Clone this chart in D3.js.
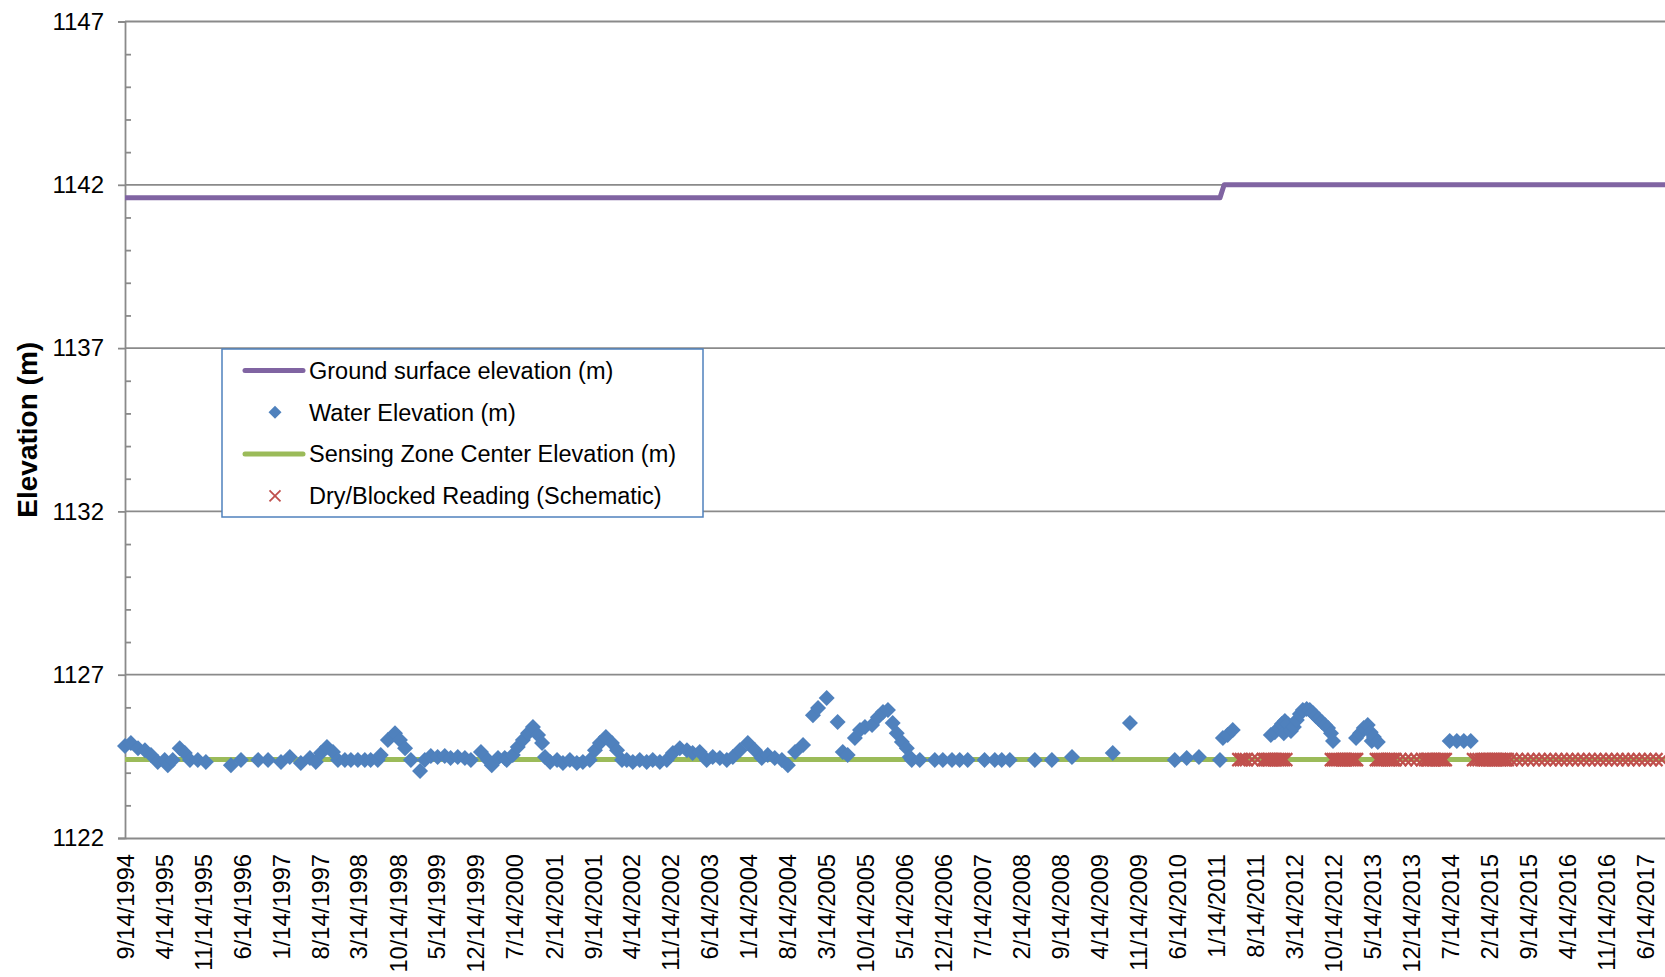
<!DOCTYPE html>
<html><head><meta charset="utf-8">
<script src="https://cdn.jsdelivr.net/npm/d3@7"></script>
<style>
body{margin:0;background:#fff}
svg{display:block}
text{font-family:"Liberation Sans",Arial,sans-serif;fill:#000}
</style>
</head><body>
<svg id="chart" width="1665" height="977"></svg>
<script>
// ---------- DATA ----------
const xTickLabels = ["9/14/1994","4/14/1995","11/14/1995","6/14/1996","1/14/1997","8/14/1997","3/14/1998","10/14/1998","5/14/1999","12/14/1999","7/14/2000","2/14/2001","9/14/2001","4/14/2002","11/14/2002","6/14/2003","1/14/2004","8/14/2004","3/14/2005","10/14/2005","5/14/2006","12/14/2006","7/14/2007","2/14/2008","9/14/2008","4/14/2009","11/14/2009","6/14/2010","1/14/2011","8/14/2011","3/14/2012","10/14/2012","5/14/2013","12/14/2013","7/14/2014","2/14/2015","9/14/2015","4/14/2016","11/14/2016","6/14/2017"];
const yTicks = [1122,1127,1132,1137,1142,1147];
const yMinorTicks = [1123,1124,1125,1126,1128,1129,1130,1131,1133,1134,1135,1136,1138,1139,1140,1141,1143,1144,1145,1146];
const xDomain = ["1994-09-14","2017-10-02"];

const groundDates = ["1994-09-14","2011-02-03","2011-02-26","2017-10-02"];
const groundElev  = [1141.6, 1141.6, 1142.0, 1142.0];

const sensingDates = ["1994-09-14","2017-10-02"];
const sensingElev  = [1124.4, 1124.4];

const waterDates = ["1994-09-14","1994-10-16","1994-11-24","1995-01-01","1995-02-03","1995-03-12","1995-04-19","1995-05-06","1995-06-02","1995-07-10","1995-08-07","1995-09-04","1995-10-17","1995-11-30","1996-04-15","1996-06-09","1996-09-11","1996-11-04","1997-01-14","1997-03-03","1997-05-02","1997-06-21","1997-07-23","1997-08-20","1997-09-22","1997-10-25","1997-11-21","1997-12-29","1998-01-31","1998-03-10","1998-04-17","1998-05-19","1998-06-27","1998-07-13","1998-08-21","1998-09-29","1998-10-26","1998-11-23","1998-12-25","1999-02-13","1999-03-11","1999-04-13","1999-05-20","1999-06-28","1999-07-30","1999-09-07","1999-10-16","1999-11-18","2000-01-12","2000-02-19","2000-03-11","2000-04-14","2000-05-21","2000-06-01","2000-07-04","2000-07-31","2000-08-28","2000-09-25","2000-10-22","2000-11-19","2000-12-11","2000-12-27","2001-01-24","2001-03-03","2001-04-04","2001-05-12","2001-06-19","2001-07-22","2001-08-29","2001-09-26","2001-10-23","2001-11-25","2001-12-28","2002-01-25","2002-02-21","2002-03-19","2002-04-21","2002-05-29","2002-07-06","2002-08-08","2002-09-16","2002-10-24","2002-11-26","2003-01-03","2003-02-11","2003-03-14","2003-04-22","2003-05-30","2003-07-02","2003-08-10","2003-09-17","2003-10-20","2003-11-27","2004-01-10","2004-02-18","2004-03-26","2004-04-28","2004-06-05","2004-07-14","2004-08-16","2004-09-24","2004-11-07","2004-12-31","2005-01-28","2005-03-16","2005-05-15","2005-06-12","2005-07-09","2005-08-17","2005-09-14","2005-10-11","2005-11-19","2005-12-21","2006-01-18","2006-02-14","2006-03-12","2006-04-03","2006-05-01","2006-05-28","2006-06-13","2006-06-24","2006-08-07","2006-10-28","2006-12-11","2007-01-30","2007-03-13","2007-04-26","2007-07-27","2007-09-21","2007-10-29","2007-12-12","2008-04-27","2008-07-29","2008-11-16","2009-06-27","2009-09-29","2010-06-01","2010-08-05","2010-10-11","2011-02-03","2011-02-19","2011-03-17","2011-04-14","2011-11-08","2011-11-30","2011-12-22","2012-01-07","2012-01-18","2012-01-24","2012-02-09","2012-02-26","2012-03-13","2012-03-29","2012-04-15","2012-05-01","2012-05-22","2012-06-08","2012-06-25","2012-07-11","2012-07-27","2012-08-13","2012-08-30","2012-09-16","2012-10-02","2012-10-13","2013-02-16","2013-03-10","2013-03-30","2013-04-21","2013-05-07","2013-05-13","2013-05-24","2013-06-15","2014-07-13","2014-08-21","2014-09-28","2014-11-05"];
const waterElev = [1124.82,1124.91,1124.75,1124.69,1124.54,1124.33,1124.39,1124.23,1124.39,1124.75,1124.60,1124.39,1124.39,1124.33,1124.23,1124.39,1124.39,1124.39,1124.33,1124.48,1124.30,1124.45,1124.33,1124.60,1124.79,1124.63,1124.39,1124.39,1124.39,1124.39,1124.39,1124.39,1124.39,1124.54,1125.00,1125.21,1125.00,1124.75,1124.39,1124.05,1124.39,1124.51,1124.48,1124.51,1124.45,1124.48,1124.45,1124.39,1124.63,1124.39,1124.23,1124.45,1124.45,1124.39,1124.54,1124.79,1125.00,1125.21,1125.40,1125.15,1124.91,1124.48,1124.33,1124.39,1124.30,1124.39,1124.30,1124.33,1124.39,1124.69,1124.91,1125.09,1124.91,1124.69,1124.39,1124.39,1124.33,1124.39,1124.33,1124.39,1124.33,1124.39,1124.60,1124.75,1124.69,1124.60,1124.63,1124.39,1124.48,1124.45,1124.39,1124.48,1124.69,1124.91,1124.69,1124.45,1124.54,1124.45,1124.39,1124.23,1124.63,1124.85,1125.76,1125.98,1126.29,1125.55,1124.63,1124.54,1125.06,1125.31,1125.40,1125.46,1125.70,1125.86,1125.92,1125.52,1125.21,1124.94,1124.75,1124.48,1124.39,1124.39,1124.39,1124.39,1124.39,1124.39,1124.39,1124.39,1124.39,1124.39,1124.39,1124.39,1124.39,1124.48,1124.60,1125.52,1124.39,1124.45,1124.48,1124.39,1125.06,1125.15,1125.31,1125.15,1125.24,1125.37,1125.49,1125.21,1125.58,1125.49,1125.28,1125.40,1125.61,1125.80,1125.92,1125.95,1125.92,1125.83,1125.73,1125.64,1125.55,1125.46,1125.37,1125.21,1124.97,1125.06,1125.21,1125.37,1125.46,1125.24,1124.97,1125.09,1124.94,1124.97,1124.97,1124.97,1124.97];

const dryDates = [
"2011-05-17","2011-05-31","2011-06-14","2011-06-28","2011-07-28","2011-08-28","2011-09-28","2011-10-08","2011-10-18","2011-10-28","2011-11-07","2011-11-17","2011-11-27","2011-12-07","2011-12-17","2011-12-27","2012-01-06","2012-01-16","2012-01-29",
"2012-10-04","2012-10-14","2012-10-24","2012-11-03","2012-11-13","2012-11-23","2012-12-03","2012-12-13","2012-12-23","2013-01-02","2013-01-12","2013-01-22","2013-02-01","2013-02-11","2013-02-19",
"2013-06-07","2013-06-17","2013-06-27","2013-07-07","2013-07-17","2013-07-27","2013-08-06","2013-08-16","2013-08-26","2013-09-05","2013-09-17","2013-10-14","2013-11-14","2013-12-14","2014-01-14","2014-02-14","2014-03-03","2014-03-13","2014-03-23","2014-04-02","2014-04-12","2014-04-22","2014-05-02","2014-05-12","2014-05-22","2014-06-01","2014-06-11","2014-06-19",
"2014-11-20","2014-12-05","2014-12-20","2015-01-04","2015-01-14","2015-01-24","2015-02-03","2015-02-13","2015-02-23","2015-03-05","2015-03-15","2015-03-25","2015-04-04","2015-04-14","2015-04-24","2015-05-04","2015-05-14","2015-05-24","2015-06-14","2015-07-14","2015-08-14","2015-09-14","2015-10-14","2015-11-14","2015-12-14","2016-01-14","2016-02-14","2016-03-14","2016-04-14","2016-05-14","2016-06-14","2016-07-14","2016-08-14","2016-09-14","2016-10-14","2016-11-14","2016-12-14","2017-01-14","2017-02-14","2017-03-14","2017-04-14","2017-05-14","2017-06-14","2017-07-14","2017-08-14","2017-09-14"];
const dryReadingElev = 1124.4;

const legendLabels = ["Ground surface elevation (m)","Water Elevation (m)","Sensing Zone Center Elevation (m)","Dry/Blocked Reading (Schematic)"];
const colors = {ground:"#8064A2", water:"#4F81BD", sensing:"#9BBB59", dry:"#C0504D", grid:"#8a8a8a"};

// ---------- CHART ----------
const parse = d3.utcParse("%Y-%m-%d");
const parseTick = d3.utcParse("%m/%d/%Y");
const svg = d3.select("#chart");
const L = 125, R = 1665, T = 21.5, B = 838;

const x = d3.scaleUtc().domain(xDomain.map(parse)).range([L, R]);
const y = d3.scaleLinear().domain([1122, 1147]).range([B, T]);

// gridlines
svg.append("g").selectAll("line").data(yTicks.slice(1)).join("line")
  .attr("x1", L).attr("x2", R).attr("y1", d => y(d)).attr("y2", d => y(d))
  .attr("stroke", colors.grid).attr("stroke-width", 1.8);

// y axis
const yAxis = svg.append("g").attr("transform", `translate(${L},0)`)
  .call(d3.axisLeft(y).tickValues(yTicks).tickSize(7).tickPadding(14).tickFormat(d3.format("d")));
yAxis.select(".domain").attr("stroke", colors.grid).attr("stroke-width", 1.8);
yAxis.selectAll(".tick line").attr("stroke", colors.grid).attr("stroke-width", 1.8);
yAxis.selectAll(".tick text").attr("font-size", "24px").attr("font-family", '"Liberation Sans",Arial,sans-serif').attr("fill", "#000");
svg.append("g").attr("transform", `translate(${L},0)`)
  .call(d3.axisRight(y).tickValues(yMinorTicks).tickSize(6).tickFormat(""))
  .call(g => g.select(".domain").remove())
  .selectAll(".tick line").attr("stroke", colors.grid).attr("stroke-width", 1.8);

// x axis
const xAxis = svg.append("g").attr("transform", `translate(0,${B})`)
  .call(d3.axisBottom(x).tickValues(xTickLabels.map(parseTick)).tickSize(0).tickFormat(d3.utcFormat("%-m/%-d/%Y")));
xAxis.select(".domain").attr("stroke", colors.grid).attr("stroke-width", 1.8);
xAxis.selectAll(".tick text")
  .attr("font-size", "23.7px").attr("font-family", '"Liberation Sans",Arial,sans-serif').attr("fill", "#000")
  .attr("text-anchor", "end").attr("transform", "translate(0,16) rotate(-90)")
  .attr("x", 0).attr("y", 0).attr("dy", "0.35em");

// y title
svg.append("text").attr("transform", `translate(27,${(T + B) / 2}) rotate(-90)`)
  .attr("text-anchor", "middle").attr("dy", "0.35em")
  .attr("font-size", "28px").attr("font-weight", "bold").text("Elevation (m)");

// clip
svg.append("clipPath").attr("id", "plotclip").append("rect")
  .attr("x", L - 10).attr("y", T - 10).attr("width", R - L + 20).attr("height", B - T + 20);
const plot = svg.append("g").attr("clip-path", "url(#plotclip)");

const line = d3.line().x(d => x(d[0])).y(d => y(d[1]));

plot.append("path").datum(sensingDates.map((d, i) => [parse(d), sensingElev[i]]))
  .attr("d", line).attr("fill", "none").attr("stroke", colors.sensing).attr("stroke-width", 5);
plot.append("path").datum(groundDates.map((d, i) => [parse(d), groundElev[i]]))
  .attr("d", line).attr("fill", "none").attr("stroke", colors.ground).attr("stroke-width", 5)
  .attr("stroke-linejoin", "round");

const diamond = d3.symbol().type(d3.symbolSquare).size(128);
plot.append("g").selectAll("path").data(waterDates.map((d, i) => [parse(d), waterElev[i]])).join("path")
  .attr("d", diamond).attr("fill", colors.water)
  .attr("transform", d => `translate(${x(d[0])},${y(d[1])}) rotate(45)`);

const xMark = "M-6.5,-6.5L6.5,6.5M-6.5,6.5L6.5,-6.5";
plot.append("g").selectAll("path").data(dryDates.map(d => [parse(d), dryReadingElev])).join("path")
  .attr("d", xMark).attr("fill", "none").attr("stroke", colors.dry).attr("stroke-width", 2.2)
  .attr("transform", d => `translate(${x(d[0])},${y(d[1])})`);

// legend
const lg = svg.append("g");
lg.append("rect").attr("x", 222).attr("y", 349).attr("width", 481).attr("height", 168)
  .attr("fill", "#fff").attr("stroke", colors.water).attr("stroke-width", 1.5);
const rowY = i => 370.5 + i * 41.8;
lg.append("line").attr("x1", 245).attr("x2", 303).attr("y1", rowY(0)).attr("y2", rowY(0))
  .attr("stroke", colors.ground).attr("stroke-width", 5).attr("stroke-linecap", "round");
lg.append("path").attr("d", d3.symbol().type(d3.symbolSquare).size(85))
  .attr("fill", colors.water).attr("transform", `translate(275,${rowY(1)}) rotate(45)`);
lg.append("line").attr("x1", 245).attr("x2", 303).attr("y1", rowY(2)).attr("y2", rowY(2))
  .attr("stroke", colors.sensing).attr("stroke-width", 5).attr("stroke-linecap", "round");
lg.append("path").attr("d", "M-5.5,-5.5L5.5,5.5M-5.5,5.5L5.5,-5.5").attr("fill", "none").attr("stroke", colors.dry).attr("stroke-width", 1.8)
  .attr("transform", `translate(275,${rowY(3)})`);
lg.selectAll("text").data(legendLabels).join("text")
  .attr("x", 309).attr("y", (d, i) => rowY(i)).attr("dy", "0.35em")
  .attr("font-size", "23.5px").text(d => d);
</script>
</body></html>
